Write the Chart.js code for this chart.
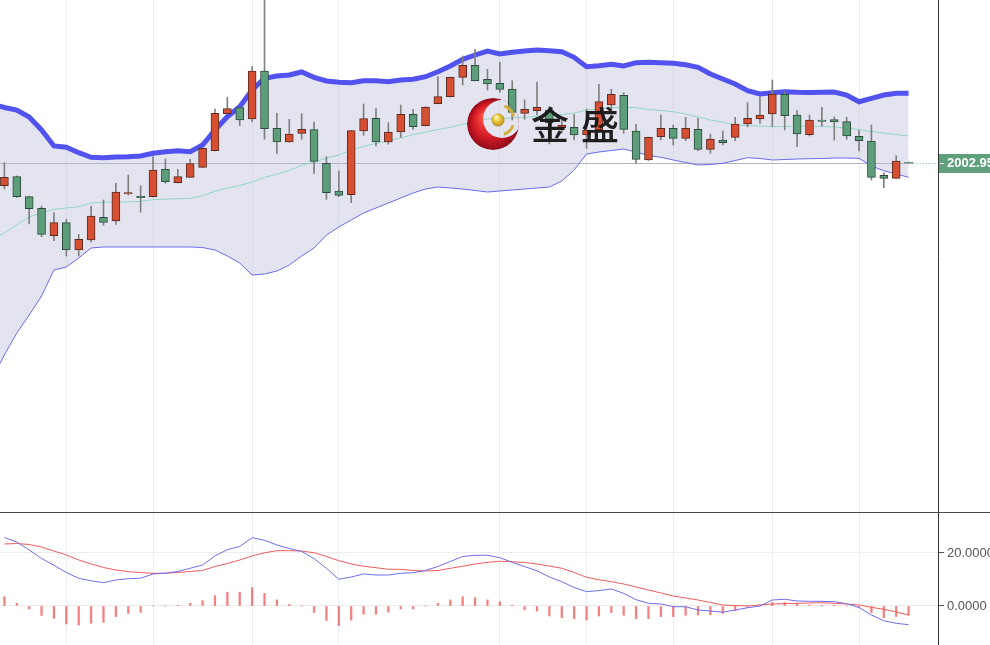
<!DOCTYPE html>
<html>
<head>
<meta charset="utf-8">
<script src="https://cdn.jsdelivr.net/npm/chart.js@4.4.0/dist/chart.umd.min.js"></script>
<style>
    html, body { margin: 0; padding: 0; background: #fff; }
    #wrap { position: relative; width: 990px; height: 645px; overflow: hidden; }
    #kline { position: absolute; left: 0; top: 0; }
    #sep { position: absolute; left: 0; top: 512px; width: 990px; height: 1px; background: #4a4a4a; }
    #macd { position: absolute; left: 0; top: 513px; }
</style>
</head>
<body>
<div id="wrap">
    <canvas id="kline" width="990" height="512"></canvas>
    <div id="sep"></div>
    <canvas id="macd" width="990" height="132"></canvas>
</div>
<script>
// K线数据 (每根K线按序号排列)
const opens = [1991.6,1996.1,1986.1,1980.3,1966.6,1973.1,1959.45,1964.45,1975.8,1973.95,
    1987.45,1986.3,1986.1,1999.8,1993.1,1995.8,2000.8,2009.1,2027.6,2030.6,
    2024.95,2048.95,2020.3,2013.45,2017.8,2019.6,2002.8,1988.95,1987.1,2018.95,
    2025.3,2013.45,2018.45,2027.3,2021.6,2032.6,2036.1,2045.8,2051.8,2044.8,
    2042.8,2039.95,2027.8,2029.1,2029.45,2020.45,2020.8,2016.95,2019.45,2031.95,
    2036.8,2018.95,2004.45,2016.1,2020.3,2015.3,2019.8,2009.8,2014.45,2015.8,
    2022.45,2024.95,2027.45,2037.3,2026.95,2017.1,2024.45,2024.6,2023.6,2016.3,
    2013.95,1996.8,1995.3,2003.3];
const highs = [2003.1,1996.45,1986.3,1981.45,1978.1,1974.8,1967.3,1981.45,1984.45,1992.8,
    1996.95,1991.6,2006.1,2004.95,1999.8,2004.8,2010.45,2029.95,2035.8,2030.7,
    2051.1,2104.45,2027.8,2024.8,2027.6,2023.45,2006.1,1998.95,2019.2,2032.45,
    2030.1,2023.1,2031.95,2029.8,2031.1,2046.1,2045.95,2056.45,2059.8,2049.8,
    2053.3,2044.1,2034.45,2043.45,2031.1,2024.45,2027.3,2029.95,2042.3,2039.8,
    2038.1,2022.3,2015.95,2026.95,2021.95,2025.8,2025.3,2017.45,2018.95,2025.8,
    2033.1,2036.1,2044.45,2038.6,2029.1,2026.95,2030.8,2026.1,2025.8,2019.1,
    2021.95,1998.1,2006.6,2003.45];
const lows = [1989.95,1985.7,1972.45,1966.1,1964.1,1956.45,1956.45,1963.45,1971.8,1972.3,
    1986.95,1978.3,1985.95,1992.8,1992.95,1995.7,2000.7,2008.95,2027.45,2021.6,
    2023.45,2014.8,2007.8,2013.3,2014.8,1997.8,1984.8,1986.1,1983.1,2016.8,
    2011.45,2012.3,2015.8,2019.8,2021.45,2032.45,2035.95,2041.95,2043.95,2039.45,
    2038.3,2024.45,2024.8,2026.95,2012.45,2017.95,2014.45,2010.3,2019.2,2029.45,
    2017.8,2002.8,2004.2,2014.45,2011.95,2014.1,2009.1,2007.8,2011.95,2014.1,
    2021.1,2022.8,2021.1,2019.45,2011.1,2016.45,2021.45,2014.45,2014.8,2008.95,
    1994.45,1990.6,1995.2,2002.8];
const closes = [1995.8,1986.1,1980.1,1967.3,1973.1,1959.45,1964.8,1976.45,1973.3,1988.45,
    1988.1,1985.6,1999.45,1993.6,1996.1,2002.6,2010.3,2027.8,2030.1,2024.45,
    2048.95,2020.1,2013.45,2017.45,2019.8,2003.8,1988.1,1986.8,2019.1,2025.1,
    2013.45,2018.45,2027.3,2021.1,2030.95,2036.1,2045.8,2051.8,2044.1,2042.45,
    2039.8,2028.3,2029.8,2030.8,2022.95,2021.95,2016.95,2019.45,2033.6,2037.3,
    2019.8,2004.8,2015.8,2020.3,2015.3,2020.3,2009.8,2014.95,2013.1,2022.45,
    2025.3,2026.95,2037.45,2026.6,2017.45,2024.45,2023.8,2023.45,2016.45,2014.1,
    1995.8,1995.3,2003.95,2002.95];

// 布林带 (从序号 -1 开始, 第一个点在画面左侧外)
const bandStart = -1;
const bollUpper = [2032.45, 2030.7,2029.45,2025.95,2019.45,2011.45,2010.8,2008.1,2005.8,2005.6,2005.95,
    2006.1,2006.45,2007.8,2008.6,2009.1,2008.6,2011.95,2019.45,2026.1,2031.1,
    2039.45,2045.3,2046.45,2046.95,2048.45,2045.8,2043.95,2043.3,2043.1,2044.1,
    2044.1,2043.6,2044.45,2044.8,2046.1,2048.6,2051.45,2054.8,2056.95,2058.95,
    2057.45,2058.3,2058.95,2059.45,2059.1,2058.6,2055.8,2051.1,2051.6,2052.3,
    2051.45,2053.1,2053.3,2053.1,2052.8,2052.1,2050.8,2047.45,2044.95,2042.45,
    2039.1,2037.45,2038.1,2038.6,2038.3,2038.2,2038.3,2038.45,2036.95,2033.6,
    2035.3,2036.95,2037.8,2037.8];
const bollMid = [1964.45, 1968,1972,1976,1977.95,1979.8,1980.5,1981,1983,1983.3,1983.5,
    1983.5,1983.8,1984.6,1984.9,1985.1,1985.3,1986.6,1988.8,1990.4,1991.7,
    1993.4,1995.8,1997.3,1999.2,2001.8,2003.4,2005.45,2007,2009.5,2011.3,
    2012.7,2014,2015.5,2017.1,2018.4,2019.7,2020.8,2022.4,2023.8,2025,
    2025.2,2025.5,2025.8,2026.2,2026.6,2027.2,2027.9,2029.4,2030,2030.6,
    2030.7,2030.6,2029.7,2029.2,2028.6,2027.45,2025.95,2024.45,2023.45,2021.95,
    2021.7,2021.45,2021.1,2021.2,2021.35,2021.45,2021.2,2020.95,2020.45,2019.7,
    2018.7,2017.95,2017.2,2016.45];
const bollLower = [1895.45, 1906.95,1917.95,1926.95,1936.45,1949.45,1950.95,1955.45,1960.45,1960.95,1960.95,
    1960.95,1960.95,1960.95,1960.95,1960.95,1960.95,1960.7,1959.45,1956.45,1952.95,
    1946.95,1947.45,1948.95,1951.95,1956.45,1960.45,1966.95,1970.95,1974.45,1977.95,
    1980.45,1982.95,1985.45,1987.95,1989.95,1990.95,1990.45,1989.95,1989.2,1988.45,
    1988.95,1989.45,1989.95,1990.45,1990.95,1993.95,1999.45,2007.45,2008.45,2009.2,
    2009.95,2008.45,2006.7,2005.8,2004.45,2003.2,2001.95,2002.2,2002.8,2004.2,
    2005.6,2005.2,2004.45,2004.7,2004.95,2005.1,2005.2,2005.45,2005.45,2005.3,
    2001.45,1999.1,1997.45,1995.8];

// MACD
const macdDif = [25.85,24.15,21.13,17.92,15.36,12.64,10.45,9.51,8.79,9.81,
    10.30,10.49,12.08,12.38,13.02,14.23,15.47,18.87,21.25,22.45,
    25.77,24.79,23.02,21.70,20.57,17.85,14.23,10.08,10.94,12.08,
    11.70,11.70,12.34,12.57,13.40,14.91,16.79,18.68,19.13,19.13,
    18.23,16.49,14.87,13.28,10.94,9.17,6.98,5.40,5.81,6.42,
    4.75,2.38,1.02,0.75,-0.26,-0.30,-1.51,-1.89,-2.34,-1.51,
    -0.68,0.00,2.26,2.53,1.89,1.77,1.77,1.62,0.87,-0.57,
    -3.40,-5.58,-6.53,-7.06];
const macdDea = [23.40,23.58,23.21,22.26,20.75,19.25,17.36,15.85,14.53,13.58,
    12.98,12.60,12.34,12.38,12.64,13.02,13.40,14.91,16.04,17.36,
    18.87,20.08,20.87,20.87,20.75,20.08,18.68,17.09,15.85,14.98,
    14.45,13.85,13.85,13.40,13.21,13.40,14.23,14.98,15.85,16.49,
    16.87,16.68,16.42,15.85,15.09,14.23,12.64,10.83,9.89,9.17,
    8.30,7.17,6.04,4.91,3.77,3.02,2.26,1.32,0.38,0.15,
    0.00,0.38,0.75,0.91,1.02,1.13,1.25,1.02,0.75,0.38,
    -0.49,-1.25,-2.26,-3.40];
const macdHist = [3.5,1.0,-1.1,-3.6,-4.7,-6.8,-7.2,-6.5,-6.2,-4.0,
    -2.8,-2.4,0,0,0.3,1.0,2.0,3.9,5.2,5.2,
    6.9,4.8,2.3,0.6,0,-2.4,-5.5,-7.4,-5.3,-3.1,
    -3.1,-2.3,-1.1,-1.1,0,1.0,2.3,3.5,3.1,2.3,
    1.6,0.3,-1.5,-1.9,-3.8,-4.4,-4.8,-5.3,-3.8,-2.5,
    -3.5,-4.8,-4.8,-4.0,-4.0,-3.5,-3.4,-3.3,-2.8,-1.8,
    -0.6,0,1.3,1.3,1.0,0.4,0.3,0.3,0,-0.6,
    -2.5,-4.4,-4.0,-3.5];

// 竖向网格所在的K线序号
const gridIdx = [5, 12, 20, 27, 40, 47, 54, 62, 69];
const macdTicks = [0, 20];

const UP_FILL = '#d64f33', UP_LINE = '#5a2b20';
const DOWN_FILL = '#5e9d7a', DOWN_LINE = '#2d4d3c';

const X_MIN = -0.355, X_MAX = 75.375;

const isUp = closes.map((c, i) => c >= opens[i]);
const candleXs = closes.map((_, i) => i);
const toBand = arr => arr.map((v, i) => ({ x: i + bandStart, y: v }));

const xScale = () => ({
    type: 'linear',
    min: X_MIN,
    max: X_MAX,
    offset: false,
    ticks: { display: false },
    grid: { color: '#eceef2', drawTicks: false, offset: false },
    border: { display: false },
    afterBuildTicks: s => { s.ticks = gridIdx.map(v => ({ value: v })); },
    afterFit: s => { s.height = 0; s.paddingLeft = 0; s.paddingRight = 0; }
});

// 现价线 + 价格标签
const priceTag = {
    id: 'priceTag',
    beforeDatasetsDraw(chart) {
        const { ctx, chartArea, scales } = chart;
        const last = closes[closes.length - 1];
        const y = Math.round(scales.y.getPixelForValue(last)) + 0.5;
        const xEnd = scales.x.getPixelForValue(closes.length - 1) + 5;
        ctx.save();
        ctx.lineWidth = 1;
        ctx.strokeStyle = '#b4b4be';
        ctx.beginPath();
        ctx.moveTo(chartArea.left, y);
        ctx.lineTo(xEnd, y);
        ctx.stroke();
        ctx.setLineDash([1, 2]);
        ctx.strokeStyle = '#7dbb98';
        ctx.beginPath();
        ctx.moveTo(xEnd, y);
        ctx.lineTo(chartArea.right, y);
        ctx.stroke();
        ctx.restore();
    },
    afterDraw(chart) {
        const { ctx, chartArea, scales } = chart;
        const last = closes[closes.length - 1];
        const y = scales.y.getPixelForValue(last);
        ctx.save();
        ctx.fillStyle = '#5f9f7b';
        ctx.fillRect(chartArea.right + 1, y - 9, 60, 19);
        ctx.strokeStyle = '#ffffff';
        ctx.lineWidth = 1;
        ctx.beginPath();
        ctx.moveTo(chartArea.right + 2, Math.round(y) + 0.5);
        ctx.lineTo(chartArea.right + 6, Math.round(y) + 0.5);
        ctx.stroke();
        ctx.fillStyle = '#ffffff';
        ctx.font = 'bold 13px "Liberation Sans"';
        ctx.textBaseline = 'middle';
        ctx.fillText(last.toFixed(2), chartArea.right + 9, y + 0.5);
        ctx.restore();
    }
};

// 金盛 水印
const watermark = {
    id: 'watermark',
    afterDatasetsDraw(chart) {
        const ctx = chart.ctx;
        const cx = 493, cy = 124, r = 26;
        ctx.save();
        ctx.globalAlpha = 0.95;
        ctx.save();
        ctx.beginPath();
        ctx.arc(cx, cy, r, 0, Math.PI * 2);
        ctx.clip();
        const grad = ctx.createRadialGradient(cx - 8, cy - 8, 2, cx, cy, r);
        grad.addColorStop(0, '#ff4a3a');
        grad.addColorStop(0.6, '#d4101a');
        grad.addColorStop(1, '#8c0010');
        ctx.fillStyle = grad;
        ctx.beginPath();
        ctx.arc(cx, cy, r, 0, Math.PI * 2);
        ctx.arc(cx + 9, cy - 5, 19, 0, Math.PI * 2, true);
        ctx.fill('evenodd');
        ctx.restore();
        // 金色弧
        ctx.strokeStyle = '#d6ae34';
        ctx.lineWidth = 3;
        ctx.beginPath();
        ctx.arc(cx + 6, cy - 4, 15, -1.2, -0.25);
        ctx.stroke();
        ctx.beginPath();
        ctx.arc(cx + 6, cy - 4, 15, 0.35, 1.25);
        ctx.stroke();
        // 金球
        const ball = ctx.createRadialGradient(cx + 3, cy - 7, 1, cx + 5, cy - 4, 7);
        ball.addColorStop(0, '#fff3a0');
        ball.addColorStop(0.5, '#e6bf2c');
        ball.addColorStop(1, '#a87f10');
        ctx.fillStyle = ball;
        ctx.beginPath();
        ctx.arc(cx + 5, cy - 4, 6.5, 0, Math.PI * 2);
        ctx.fill();
        // 文字
        ctx.fillStyle = '#151515';
        ctx.font = '500 38px "Noto Sans CJK SC"';
        ctx.textBaseline = 'middle';
        ctx.fillText('金', 531, 125);
        ctx.fillText('盛', 581, 125);
        ctx.restore();
    }
};

new Chart(document.getElementById('kline'), {
    type: 'bar',
    data: {
        datasets: [
            {
                type: 'bar',
                label: 'body',
                data: candleXs.map(i => ({ x: i, y: [opens[i], closes[i]] })),
                backgroundColor: isUp.map(u => u ? UP_FILL : DOWN_FILL),
                borderColor: isUp.map(u => u ? UP_LINE : DOWN_LINE),
                borderWidth: 1,
                borderSkipped: false,
                barThickness: 8,
                grouped: false,
                order: 1
            },
            {
                type: 'bar',
                label: 'wick',
                data: candleXs.map(i => ({ x: i, y: [lows[i], highs[i]] })),
                backgroundColor: '#808080',
                borderWidth: 0,
                barThickness: 1,
                grouped: false,
                order: 2
            },
            {
                type: 'line',
                label: 'UP',
                data: toBand(bollUpper),
                borderColor: '#5252f0',
                borderWidth: 5,
                pointRadius: 0,
                tension: 0,
                fill: { target: 4 },
                backgroundColor: 'rgba(185, 185, 218, 0.38)',
                order: 6
            },
            {
                type: 'line',
                label: 'MID',
                data: toBand(bollMid),
                borderColor: '#8fd8c5',
                borderWidth: 1,
                pointRadius: 0,
                tension: 0,
                fill: false,
                order: 4
            },
            {
                type: 'line',
                label: 'DN',
                data: toBand(bollLower),
                borderColor: '#6a6af0',
                borderWidth: 1,
                pointRadius: 0,
                tension: 0,
                fill: false,
                order: 5
            }
        ]
    },
    options: {
        responsive: false,
        animation: false,
        layout: { padding: 0 },
        plugins: {
            legend: { display: false },
            tooltip: { enabled: false }
        },
        scales: {
            x: xScale(),
            y: {
                position: 'right',
                min: 1828.45,
                max: 2084.45,
                ticks: { display: false },
                grid: { display: false },
                border: { display: true, color: '#333333', width: 1 },
                afterFit: s => { s.width = 52; s.paddingTop = 0; s.paddingBottom = 0; }
            }
        }
    },
    plugins: [priceTag, watermark]
});

new Chart(document.getElementById('macd'), {
    type: 'bar',
    data: {
        datasets: [
            {
                type: 'line',
                label: 'DIF',
                data: candleXs.map(i => ({ x: i, y: macdDif[i] })),
                borderColor: '#6e6ef0',
                borderWidth: 1,
                pointRadius: 0,
                tension: 0,
                order: 1
            },
            {
                type: 'line',
                label: 'DEA',
                data: candleXs.map(i => ({ x: i, y: macdDea[i] })),
                borderColor: '#f05c5c',
                borderWidth: 1,
                pointRadius: 0,
                tension: 0,
                order: 2
            },
            {
                type: 'bar',
                label: 'MACD',
                data: candleXs.map(i => ({ x: i, y: macdHist[i] })),
                backgroundColor: 'rgba(240, 85, 85, 0.75)',
                barThickness: 1.6,
                grouped: false,
                order: 3
            }
        ]
    },
    options: {
        responsive: false,
        animation: false,
        layout: { padding: 0 },
        plugins: {
            legend: { display: false },
            tooltip: { enabled: false }
        },
        scales: {
            x: xScale(),
            y: {
                position: 'right',
                min: -14.72,
                max: 35.09,
                afterBuildTicks: s => { s.ticks = macdTicks.map(v => ({ value: v })); },
                ticks: {
                    callback: v => Number(v).toFixed(4),
                    color: '#555555',
                    padding: 3,
                    font: { size: 13, family: 'Liberation Sans' }
                },
                grid: { color: '#ececec', tickColor: '#555555', tickLength: 6 },
                border: { display: true, color: '#333333', width: 1 },
                afterFit: s => { s.width = 52; s.paddingTop = 0; s.paddingBottom = 0; }
            }
        }
    }
});
</script>
</body>
</html>
